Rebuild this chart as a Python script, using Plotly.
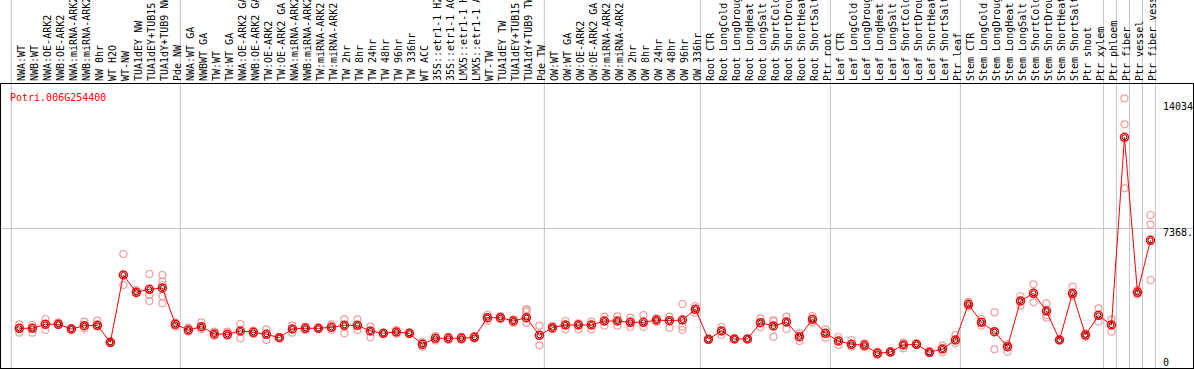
import plotly.graph_objects as go

labels = ["NWA:WT", "NWB:WT", "NWA:OE-ARK2", "NWB:OE-ARK2", "NWA:miRNA-ARK2", "NWB:miRNA-ARK2",
          "NW 0hr", "WT H2O", "WT-NW", "TUA1dEY NW", "TUA1dEY+TUB15 NW", "TUA1dY+TUB9 NW", "Pde NW",
          "NWA:WT GA", "NWBWT GA", "TW:WT", "TW:WT GA", "NWA:OE-ARK2 GA", "NWB:OE-ARK2 GA",
          "TW:OE-ARK2", "TW:OE-ARK2 GA", "NWA:miRNA-ARK2 GA", "NWB:miRNA-ARK2 GA", "TW:miRNA-ARK2",
          "TW:miRNA-ARK2 GA", "TW 2hr", "TW 8hr", "TW 24hr", "TW 48hr", "TW 96hr", "TW 336hr", "WT ACC",
          "35S::etr1-1 H2O", "35S::etr1-1 ACC", "LMX5::etr1-1 H2O", "LMX5::etr1-1 ACC", "WT-TW",
          "TUA1dEY TW", "TUA1dEY+TUB15 TW", "TUA1dY+TUB9 TW", "Pde TW",
          "OW:WT", "OW:WT GA", "OW:OE-ARK2", "OW:OE-ARK2 GA", "OW:miRNA-ARK2", "OW:miRNA-ARK2 GA",
          "OW 2hr", "OW 8hr", "OW 24hr", "OW 48hr", "OW 96hr", "OW 336hr",
          "Root CTR", "Root LongCold", "Root LongDrought", "Root LongHeat", "Root LongSalt",
          "Root ShortCold", "Root ShortDrought", "Root ShortHeat", "Root ShortSalt", "Ptr root",
          "Leaf CTR", "Leaf LongCold", "Leaf LongDrought", "Leaf LongHeat", "Leaf LongSalt",
          "Leaf ShortCold", "Leaf ShortDrought", "Leaf ShortHeat", "Leaf ShortSalt", "Ptr leaf",
          "Stem CTR", "Stem LongCold", "Stem LongDrought", "Stem LongHeat", "Stem LongSalt",
          "Stem ShortCold", "Stem ShortDrought", "Stem ShortHeat", "Stem ShortSalt", "Ptr shoot",
          "Ptr xylem", "Ptr phloem", "Ptr fiber", "Ptr vessel", "Ptr fiber vessel"]

means = [1683, 1683, 1910, 1910, 1644, 1831, 1853, 890, 4704, 3724, 3894, 3968, 1910,
         1587, 1774, 1360, 1343, 1530, 1457, 1343, 1151, 1644, 1683, 1683, 1740, 1853, 1853,
         1530, 1400, 1474, 1400, 776, 1117, 1117, 1117, 1173, 2284, 2284, 2097, 2284, 1287,
         1717, 1870, 1870, 1870, 2097, 2097, 2023, 2023, 2154, 2114, 2154, 2760,
         1060, 1530, 1077, 1077, 2001, 1814, 2040, 1207, 2193, 1400,
         964, 776, 720, 266, 340, 737, 776, 323, 510, 1020,
         3044, 2023, 1491, 640, 3231, 3667, 2664, 1020, 3667, 1304, 2420,
         1870, 12510, 3724, 6671]

replicates = [
    [1910, 1434], [1870, 1434], [2211, 1587], [2023, 1870], [1700, 1587], [2058, 1683],
    [2114, 1774], [870, 910], [5895, 4138], [3854, 3667], [4761, 3571, 3231],
    [4704, 4325, 4138, 3514, 3100], [2001, 1774],
    [1717, 1491], [2023, 1627], [1491, 1247], [1491, 1247], [1927, 1117], [1547, 1360],
    [1627, 1020], [1151, 1151], [1831, 1434], [1774, 1590], [1683, 1683], [1910, 1587],
    [2193, 1400], [2193, 1587], [1774, 1173], [1400, 1400], [1587, 1360], [1434, 1360],
    [640, 900], [1247, 990], [1207, 1030], [1207, 1030], [1247, 1100], [2114, 2450],
    [2193, 2380], [2001, 2190], [2777, 2721, 2625, 2001], [1831, 720],
    [1627, 1810], [2097, 1627], [1967, 1627], [2058, 1627], [2341, 1831], [1831, 2360],
    [1757, 2290], [2437, 1757], [2250, 2050], [2341, 1717], [3061, 1774, 1587], [2947, 2570],
    [1060, 1060], [1304, 1756], [1077, 1077], [1077, 1077], [2250, 1750], [2154, 1207, 2080],
    [2341, 1644], [1400, 964], [2381, 2005], [1627, 1151],
    [737, 1190], [1020, 640], [606, 834], [170, 360], [300, 380], [550, 890], [776, 776],
    [357, 290], [323, 700], [1304, 833],
    [3191, 2908], [1831, 2210], [2590, 493], [357, 794], [2964, 3500], [4177, 3157],
    [3100, 2437, 2284], [1020, 1020], [4041, 3514], [1207, 1400], [2817, 2058],
    [2193, 1491], [14720, 13246, 9619], [3854, 3594], [8105, 7578, 4421]]

group_ends = [12, 40, 52, 62, 72, 83, 84, 85, 86, 87]
title_text = "Potri.006G254400"
scale_labels = [("14034", 14034, 3.5), ("7368.", 7368, -4), ("0", 0, -4)]

W, H = 1194, 370
ML, MR, MT, MB = 1, 1, 84, 2
x_range = [-1.41, 90.27]
y_range = [-567, 15530]
MONO = "DejaVu Sans Mono"


def xpaper(v):
    return (v - x_range[0]) / (x_range[1] - x_range[0])


rep_x, rep_y = [], []
for i, reps in enumerate(replicates):
    for r in reps:
        rep_x.append(i)
        rep_y.append(r)

xs = list(range(len(labels)))

fig = go.Figure()
fig.add_trace(go.Scatter(x=rep_x, y=rep_y, mode="markers", hoverinfo="skip",
                         marker=dict(symbol="circle-open", size=7, color="#ef9c9c",
                                     line=dict(width=1.2, color="#ef9c9c"))))
fig.add_trace(go.Scatter(x=xs, y=means, mode="lines+markers",
                         line=dict(color="#ff0000", width=1),
                         marker=dict(symbol="circle-open", size=8, color="#ff0000",
                                     line=dict(width=1.5, color="#ff0000"))))
fig.add_trace(go.Scatter(x=xs, y=means, mode="markers", hoverinfo="skip",
                         marker=dict(symbol="circle-open", size=5, color="#600000",
                                     line=dict(width=1, color="#600000"))))

shapes = []
bounds = [-0.5] + [g + 0.5 for g in group_ends]
top_ext = 1 + MT / (H - MT - MB)
for b in bounds:
    xp = xpaper(b - 0.12)
    shapes.append(dict(type="line", xref="paper", yref="paper", x0=xp, x1=xp, y0=0, y1=top_ext,
                       line=dict(color="#c4c4c4", width=1), layer="below"))

annotations = [dict(text=title_text, xref="paper", yref="paper", x=(8 - ML) / (W - ML - MR),
                    y=1 - 13 / (H - MT - MB), xanchor="left", yanchor="middle", showarrow=False,
                    font=dict(family=MONO, size=10, color="#ff0000"))]
for txt, val, shift in scale_labels:
    annotations.append(dict(text=txt, xref="paper", yref="y", x=(1161 - ML) / (W - ML - MR), y=val,
                            xanchor="left", yanchor="middle", yshift=shift, showarrow=False,
                            font=dict(family=MONO, size=10, color="#000000")))

fig.update_layout(
    width=W, height=H, margin=dict(l=ML, r=MR, t=MT, b=MB, pad=0),
    paper_bgcolor="white", plot_bgcolor="white", showlegend=False,
    shapes=shapes, annotations=annotations,
    xaxis=dict(range=x_range, side="top", tickmode="array", tickvals=xs, ticktext=labels,
               tickangle=-90, tickfont=dict(family=MONO, size=10, color="#000000"),
               ticklabelshift=2,
               showgrid=False, zeroline=False, showline=True, mirror=True, linecolor="#000000",
               linewidth=1, ticks="", automargin=False, fixedrange=True),
    yaxis=dict(range=y_range, tickmode="array", tickvals=[7368], showticklabels=False,
               showgrid=True, gridcolor="#c4c4c4", gridwidth=1, zeroline=False,
               showline=True, mirror=True, linecolor="#000000", linewidth=1, ticks="",
               automargin=False, fixedrange=True),
)

fig.write_html("out.html", config={"displayModeBar": False, "staticPlot": True},
               post_script="document.body.style.margin='0';document.body.style.overflow='hidden';")
